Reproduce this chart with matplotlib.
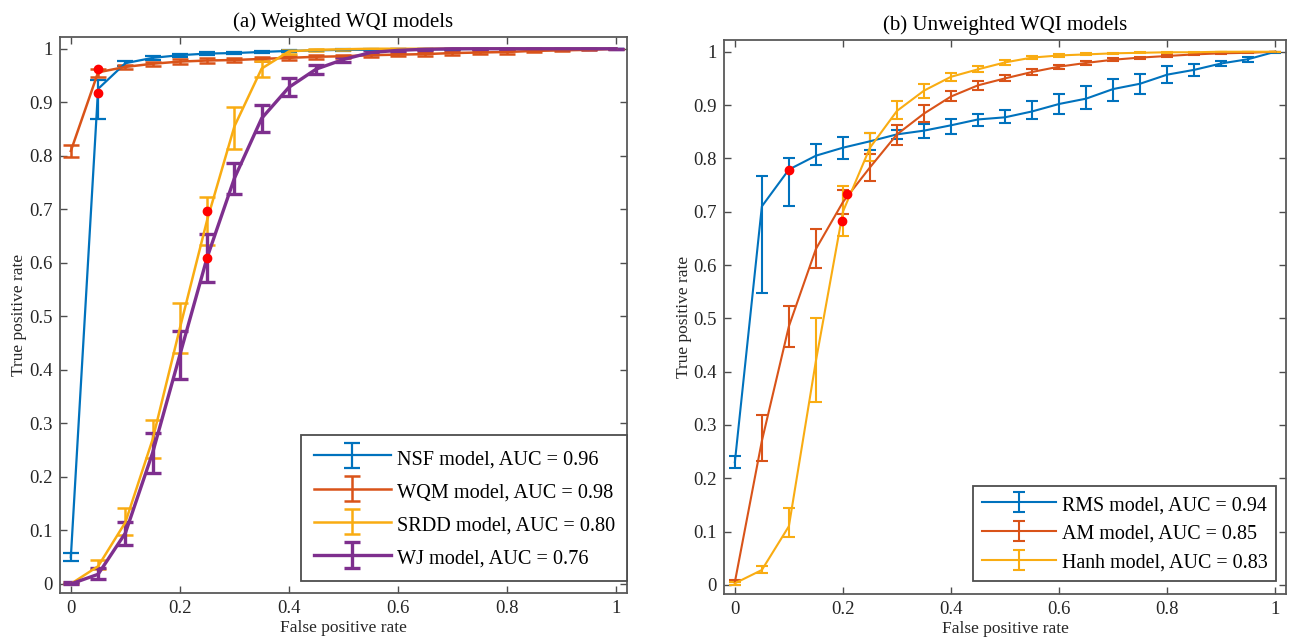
import matplotlib
matplotlib.use('Agg')
import matplotlib.pyplot as plt
import numpy as np
from matplotlib.ticker import FormatStrFormatter
from matplotlib.container import ErrorbarContainer
from matplotlib.legend_handler import HandlerErrorbar

plt.rcParams['font.family'] = ['Liberation Serif', 'DejaVu Serif']

#False positive rate thresholds (shared by both panels)
fpr = [0, 0.05, 0.1, 0.15, 0.2, 0.25, 0.3, 0.35, 0.4, 0.45, 0.5,
       0.55, 0.6, 0.65, 0.7, 0.75, 0.8, 0.85, 0.9, 0.95, 1.0]

#(a) weighted models: mean TPR, lower and upper error bounds
nsf = [0.05, 0.925, 0.973, 0.983, 0.988, 0.991, 0.992, 0.994, 0.996, 0.997, 0.998,
       0.998, 0.999, 0.999, 0.999, 1.0, 1.0, 1.0, 1.0, 1.0, 1.0]
nsf_lo = [0.042, 0.869, 0.968, 0.979, 0.985, 0.988, 0.990, 0.992, 0.994, 0.995, 0.996,
          0.997, 0.998, 0.998, 0.998, 0.999, 0.999, 0.999, 1.0, 1.0, 1.0]
nsf_hi = [0.057, 0.942, 0.977, 0.987, 0.991, 0.993, 0.994, 0.996, 0.998, 0.998, 0.999,
          0.999, 1.0, 1.0, 1.0, 1.0, 1.0, 1.0, 1.0, 1.0, 1.0]

wqm = [0.809, 0.956, 0.966, 0.972, 0.976, 0.978, 0.979, 0.981, 0.983, 0.985, 0.986,
       0.988, 0.989, 0.990, 0.992, 0.993, 0.994, 0.996, 0.997, 0.998, 1.0]
wqm_lo = [0.797, 0.948, 0.962, 0.968, 0.972, 0.974, 0.975, 0.977, 0.979, 0.981, 0.983,
          0.985, 0.986, 0.987, 0.989, 0.990, 0.991, 0.993, 0.995, 0.997, 1.0]
wqm_hi = [0.820, 0.962, 0.970, 0.976, 0.980, 0.982, 0.983, 0.985, 0.987, 0.989, 0.989,
          0.991, 0.992, 0.993, 0.995, 0.996, 0.997, 0.998, 0.999, 0.999, 1.0]

srdd = [0.0, 0.033, 0.115, 0.27, 0.478, 0.68, 0.855, 0.963, 0.995, 0.998, 0.999,
        1.0, 1.0, 1.0, 1.0, 1.0, 1.0, 1.0, 1.0, 1.0, 1.0]
srdd_lo = [0.0, 0.027, 0.092, 0.235, 0.431, 0.634, 0.813, 0.947, 0.991, 0.996, 0.998,
           0.999, 1.0, 1.0, 1.0, 1.0, 1.0, 1.0, 1.0, 1.0, 1.0]
srdd_hi = [0.003, 0.044, 0.141, 0.307, 0.525, 0.723, 0.891, 0.977, 0.998, 0.999, 1.0,
           1.0, 1.0, 1.0, 1.0, 1.0, 1.0, 1.0, 1.0, 1.0, 1.0]

wj = [0.0, 0.018, 0.095, 0.245, 0.428, 0.61, 0.758, 0.87, 0.928, 0.962, 0.98,
      0.993, 0.997, 0.999, 1.0, 1.0, 1.0, 1.0, 1.0, 1.0, 1.0]
wj_lo = [0.0, 0.01, 0.073, 0.208, 0.383, 0.565, 0.729, 0.844, 0.911, 0.953, 0.976,
         0.99, 0.995, 0.998, 0.999, 1.0, 1.0, 1.0, 1.0, 1.0, 1.0]
wj_hi = [0.003, 0.03, 0.115, 0.282, 0.472, 0.654, 0.787, 0.895, 0.946, 0.969, 0.984,
         0.997, 0.999, 1.0, 1.0, 1.0, 1.0, 1.0, 1.0, 1.0, 1.0]

#(b) unweighted models
rms = [0.23, 0.71, 0.779, 0.805, 0.82, 0.832, 0.845, 0.852, 0.862, 0.873, 0.877,
       0.888, 0.902, 0.912, 0.93, 0.94, 0.957, 0.966, 0.978, 0.986, 1.0]
rms_lo = [0.219, 0.548, 0.711, 0.788, 0.799, 0.815, 0.836, 0.839, 0.846, 0.861, 0.867,
          0.874, 0.884, 0.893, 0.908, 0.921, 0.942, 0.955, 0.974, 0.981, 0.998]
rms_hi = [0.241, 0.767, 0.801, 0.827, 0.841, 0.848, 0.854, 0.865, 0.874, 0.884, 0.891,
          0.908, 0.921, 0.936, 0.949, 0.959, 0.974, 0.977, 0.983, 0.99, 1.0]

am = [0.005, 0.27, 0.485, 0.63, 0.718, 0.783, 0.845, 0.884, 0.916, 0.937, 0.95,
      0.962, 0.972, 0.979, 0.985, 0.989, 0.992, 0.995, 0.997, 0.998, 1.0]
am_lo = [0.0, 0.232, 0.446, 0.594, 0.696, 0.758, 0.826, 0.869, 0.908, 0.929, 0.945,
         0.957, 0.968, 0.976, 0.982, 0.987, 0.99, 0.993, 0.996, 0.997, 1.0]
am_hi = [0.01, 0.318, 0.523, 0.667, 0.74, 0.808, 0.862, 0.9, 0.926, 0.945, 0.956,
         0.967, 0.976, 0.982, 0.988, 0.991, 0.994, 0.997, 0.998, 0.999, 1.0]

hanh = [0.003, 0.028, 0.11, 0.42, 0.70, 0.82, 0.889, 0.927, 0.953, 0.967, 0.98,
        0.989, 0.993, 0.995, 0.997, 0.998, 0.999, 0.999, 1.0, 1.0, 1.0]
hanh_lo = [0.0, 0.022, 0.09, 0.343, 0.654, 0.795, 0.873, 0.914, 0.946, 0.962, 0.976,
           0.987, 0.991, 0.993, 0.995, 0.997, 0.998, 0.998, 0.999, 1.0, 1.0]
hanh_hi = [0.006, 0.036, 0.144, 0.5, 0.748, 0.848, 0.907, 0.939, 0.96, 0.973, 0.984,
           0.992, 0.995, 0.997, 0.998, 0.999, 1.0, 1.0, 1.0, 1.0, 1.0]

#Selected operating points (red dots)
pts_a_x = [0.05, 0.05, 0.25, 0.25]
pts_a_y = [0.962, 0.917, 0.697, 0.609]
pts_b_x = [0.1, 0.199, 0.207]
pts_b_y = [0.778, 0.683, 0.734]

labels_a = ['NSF model, AUC = 0.96', 'WQM model, AUC = 0.98',
            'SRDD model, AUC = 0.80', 'WJ model, AUC = 0.76']
labels_b = ['RMS model, AUC = 0.94', 'AM model, AUC = 0.85', 'Hanh model, AUC = 0.83']

blue = '#0072BD'
orange = '#D95319'
yellow = '#F9AC12'
purple = '#7E2F8E'

fig = plt.figure(figsize=(12.89, 6.42), dpi=100)
ax1 = fig.add_axes([0.0465, 0.0763, 0.4399, 0.8661])
ax2 = fig.add_axes([0.5617, 0.0748, 0.4360, 0.8629])

x = np.array(fpr)


def draw(ax, y, lo, hi, color, label, lw, cap):
    y = np.array(y)
    err = [y - np.array(lo), np.array(hi) - y]
    ax.errorbar(x, y, yerr=err, color=color, lw=lw, elinewidth=lw,
                capsize=cap, capthick=lw, label=label)


draw(ax1, nsf, nsf_lo, nsf_hi, blue, labels_a[0], 1.6, 5.5)
draw(ax1, wqm, wqm_lo, wqm_hi, orange, labels_a[1], 1.8, 5.5)
draw(ax1, srdd, srdd_lo, srdd_hi, yellow, labels_a[2], 1.8, 5.5)
draw(ax1, wj, wj_lo, wj_hi, purple, labels_a[3], 2.4, 5.5)
ax1.plot(pts_a_x, pts_a_y, 'o', color='red', ms=6, zorder=5)

draw(ax2, rms, rms_lo, rms_hi, blue, labels_b[0], 1.5, 4.3)
draw(ax2, am, am_lo, am_hi, orange, labels_b[1], 1.5, 4.3)
draw(ax2, hanh, hanh_lo, hanh_hi, yellow, labels_b[2], 1.5, 4.3)
ax2.plot(pts_b_x, pts_b_y, 'o', color='red', ms=6, zorder=5)

for ax, title in [(ax1, '(a) Weighted WQI models'), (ax2, '(b) Unweighted WQI models')]:
    ax.set_xlim(-0.02, 1.02)
    ax.set_ylim(-0.017, 1.022)
    ax.set_xticks([0, 0.2, 0.4, 0.6, 0.8, 1])
    ax.set_yticks([0, 0.1, 0.2, 0.3, 0.4, 0.5, 0.6, 0.7, 0.8, 0.9, 1])
    ax.xaxis.set_major_formatter(FormatStrFormatter('%g'))
    ax.yaxis.set_major_formatter(FormatStrFormatter('%g'))
    ax.tick_params(direction='in', top=True, right=True, length=5, width=1,
                   color='0.3', labelsize=13.5, labelcolor='0.15', pad=5)
    for s in ax.spines.values():
        s.set_color('0.35')
        s.set_linewidth(1.3)
    ax.set_xlabel('False positive rate', fontsize=12.5, color='0.15', labelpad=2)
    ax.set_ylabel('True positive rate', fontsize=12.5, color='0.15', labelpad=1.5)
    ax.set_title(title, fontsize=15, pad=7)

leg1 = ax1.legend(loc='lower right', bbox_to_anchor=(1.0, 0.022), borderaxespad=0,
                  fontsize=14.6, fancybox=False, edgecolor='0.3', handlelength=3.8,
                  handleheight=1.2, labelspacing=0.54, handletextpad=0.3,
                  borderpad=0.6, framealpha=1,
                  handler_map={ErrorbarContainer: HandlerErrorbar(yerr_size=0.62)})
leg2 = ax2.legend(loc='lower right', bbox_to_anchor=(0.982, 0.023), borderaxespad=0,
                  fontsize=14.4, fancybox=False, edgecolor='0.3', handlelength=3.7,
                  handleheight=1.0, labelspacing=0.4, handletextpad=0.3,
                  borderpad=0.42, framealpha=1)
for leg in (leg1, leg2):
    leg.get_frame().set_linewidth(1.3)

fig.savefig('out.png', dpi=100)
